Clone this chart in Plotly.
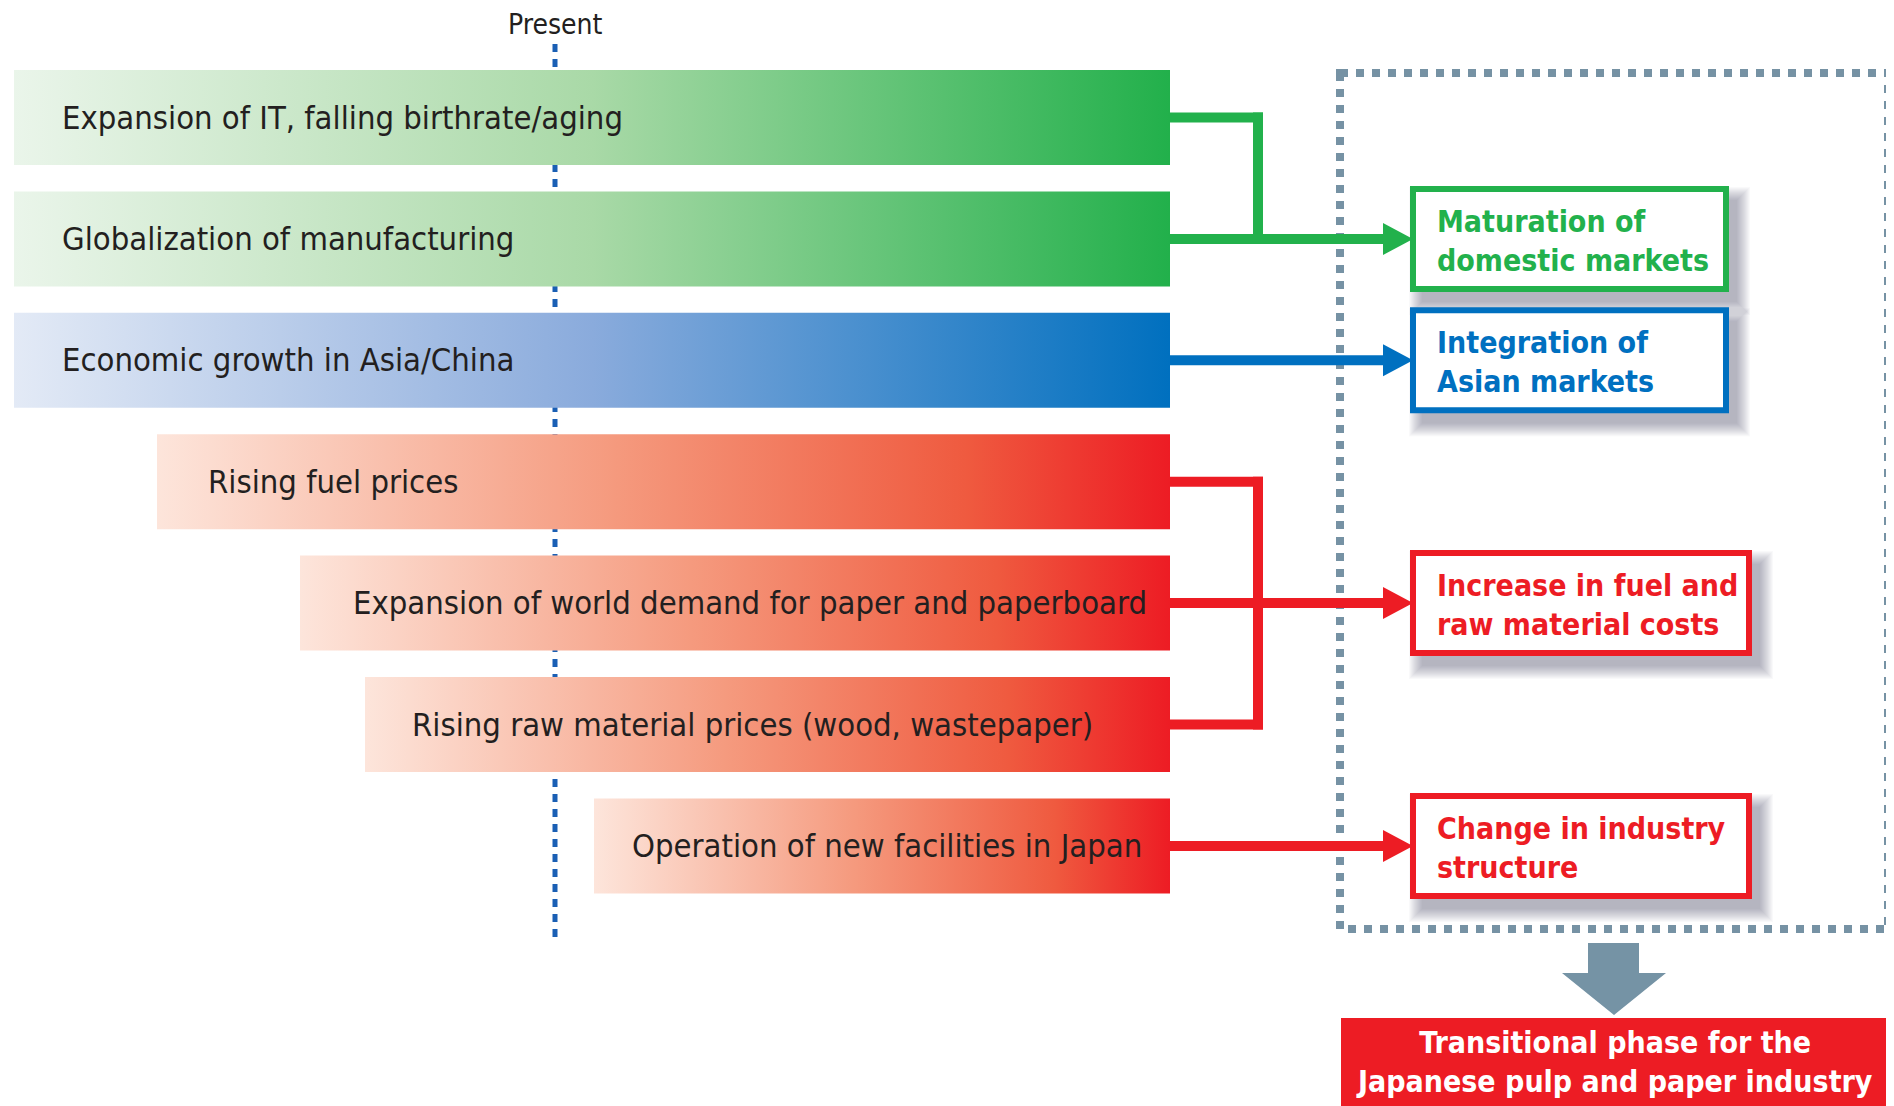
import plotly.graph_objects as go

# ---------------- data ----------------
drivers = [
    "Expansion of IT, falling birthrate/aging",
    "Globalization of manufacturing",
    "Economic growth in Asia/China",
    "Rising fuel prices",
    "Expansion of world demand for paper and paperboard",
    "Rising raw material prices (wood, wastepaper)",
    "Operation of new facilities in Japan",
]
driver_outcome = [0, 0, 1, 2, 2, 2, 3]
outcomes = [
    "Maturation of<br>domestic markets",
    "Integration of<br>Asian markets",
    "Increase in fuel and<br>raw material costs",
    "Change in industry<br>structure",
]
conclusion = "Transitional phase for the<br>Japanese pulp and paper industry"
present_label = "Present"

# ---------------- layout / style constants ----------------
W, H = 1894, 1106
OFF = 8  # default page body margin
bar_left = [14, 14, 14, 157, 300, 365, 594]
text_left = [60, 60, 60, 206, 351, 410, 630]
bar_right = 1170
bar_top0, bar_pitch, bar_h = 70, 121.4, 95
junction_x = 1258
arrow_tip = 1413
arrow_len, arrow_half = 30, 16
line_w = 10

GREEN, BLUE, RED = "#22b14c", "#0070c0", "#ed1c24"
outcome_color = [GREEN, BLUE, RED, RED]
outcome_right = [1726, 1726, 1749, 1749]
outcome_h = 100
scales = {
    GREEN: [[0, "#eaf5ea"], [0.5, "#a9d9a7"], [1, "#22b04b"]],
    BLUE: [[0, "#e3eaf6"], [0.5, "#8aabdc"], [1, "#0070bf"]],
    RED: [[0, "#fde5db"], [0.45, "#f59a7e"], [0.8, "#ef5a3f"], [1, "#ed1c24"]],
}
GREY = "#7692a4"
FONT = "Liberation Sans Narrow, DejaVu Sans Condensed, Arial Narrow, sans-serif"

fig = go.Figure()
shapes = []
annotations = []

centers = [bar_top0 + i * bar_pitch + bar_h / 2 for i in range(len(drivers))]

# Present dotted line (behind bars)
shapes.append(dict(type="line", x0=555, x1=555, y0=44, y1=942, layer="below",
                   line=dict(color="#1a5fb4", width=5, dash="8px,7px")))
annotations.append(dict(x=555, y=24, text=present_label, showarrow=False,
                        xanchor="center", yanchor="middle",
                        font=dict(family=FONT, size=28, color="#231f20")))

# gradient bars
for i, lab in enumerate(drivers):
    col = outcome_color[driver_outcome[i]]
    t = bar_top0 + i * bar_pitch
    b = t + bar_h
    l = bar_left[i]
    fig.add_trace(go.Scatter(
        x=[l, bar_right, bar_right, l, l], y=[t, t, b, b, t],
        mode="lines", line=dict(width=0), fill="toself",
        fillgradient=dict(type="horizontal", colorscale=scales[col]),
        hoverinfo="skip", showlegend=False))
    annotations.append(dict(x=text_left[i], y=centers[i], text=lab, showarrow=False,
                            xanchor="left", yanchor="middle",
                            font=dict(family=FONT, size=32.5, color="#231f20")))

# dotted frame
shapes.append(dict(type="rect", x0=1340, x1=1888, y0=73, y1=929, layer="above",
                   line=dict(color=GREY, width=8, dash="8px,8px")))

# outcome boxes, each fed by one arrowed driver
arrow_driver = [1, 2, 4, 6]
for k, d in enumerate(arrow_driver):
    y = centers[d]
    col = outcome_color[k]
    x0, x1 = arrow_tip, outcome_right[k]
    y0, y1 = y - outcome_h / 2, y + outcome_h / 2
    # soft shadow
    n = 14
    for s in range(n):
        e = n - s
        shapes.append(dict(type="rect", x0=x0 + 10 - e, x1=x1 + 10 + e,
                           y0=y0 + 12 - e, y1=y1 + 12 + e, layer="above",
                           line=dict(width=0), fillcolor="rgba(70,70,85,0.03)"))
    shapes.append(dict(type="rect", x0=x0, x1=x1, y0=y0, y1=y1, layer="above",
                       line=dict(color=col, width=6), fillcolor="white"))
    annotations.append(dict(x=x0 + 22, y=y + 2, text="<b>" + outcomes[k] + "</b>",
                            showarrow=False, xanchor="left", yanchor="middle", align="left",
                            font=dict(family=FONT, size=30, color=col)))
    # arrow line + head
    shapes.append(dict(type="line", x0=bar_right, x1=arrow_tip - arrow_len + 2, y0=y, y1=y,
                       layer="above", line=dict(color=col, width=line_w)))
    shapes.append(dict(type="path", layer="above", fillcolor=col, line=dict(width=0),
                       path=f"M {arrow_tip - arrow_len},{y - arrow_half} L {arrow_tip},{y} "
                            f"L {arrow_tip - arrow_len},{y + arrow_half} Z"))

# bracket connectors for grouped drivers
for k in range(len(outcomes)):
    members = [i for i, o in enumerate(driver_outcome) if o == k]
    if len(members) < 2:
        continue
    col = outcome_color[k]
    ys = [centers[i] for i in members]
    for yy in ys:
        shapes.append(dict(type="line", x0=bar_right, x1=junction_x + line_w / 2, y0=yy, y1=yy,
                           layer="above", line=dict(color=col, width=line_w)))
    shapes.append(dict(type="line", x0=junction_x, x1=junction_x,
                       y0=min(ys) - line_w / 2, y1=max(ys) + line_w / 2,
                       layer="above", line=dict(color=col, width=line_w)))

# down arrow
shapes.append(dict(type="path", layer="above", fillcolor="#7593a5", line=dict(width=0),
                   path="M 1588,943 L 1639,943 L 1639,973 L 1666,973 L 1614,1015 "
                        "L 1562,973 L 1588,973 Z"))
# conclusion box
shapes.append(dict(type="rect", x0=1341, x1=1888, y0=1018, y1=1120, layer="above",
                   line=dict(width=0), fillcolor=RED))
annotations.append(dict(x=1614, y=1062, text="<b>" + conclusion + "</b>", showarrow=False,
                        xanchor="center", yanchor="middle", align="center",
                        font=dict(family=FONT, size=30, color="white")))

fig.update_layout(
    width=W - OFF, height=H - OFF, margin=dict(l=0, r=0, t=0, b=0),
    paper_bgcolor="white", plot_bgcolor="white",
    xaxis=dict(range=[OFF, W], visible=False, fixedrange=True),
    yaxis=dict(range=[H, OFF], visible=False, fixedrange=True),
    shapes=shapes, annotations=annotations, showlegend=False,
)
fig.write_html("out.html")
